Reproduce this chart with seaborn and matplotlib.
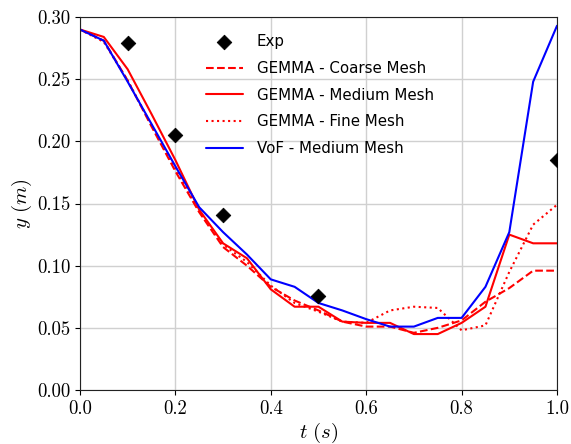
import numpy as np
import pandas as pd
import matplotlib
matplotlib.use("Agg")
import matplotlib.pyplot as plt
import seaborn as sns

# ── data ─────────────────────────────────────
t = [0.00, 0.05, 0.10, 0.15, 0.20, 0.25, 0.30, 0.35, 0.40, 0.45, 0.50,
     0.55, 0.60, 0.65, 0.70, 0.75, 0.80, 0.85, 0.90, 0.95, 1.00]

gemma_coarse = [0.290, 0.281, 0.249, 0.212, 0.176, 0.143, 0.115, 0.100, 0.083, 0.072, 0.064,
                0.055, 0.051, 0.051, 0.046, 0.050, 0.056, 0.071, 0.082, 0.096, 0.096]
gemma_medium = [0.290, 0.284, 0.258, 0.222, 0.185, 0.145, 0.118, 0.106, 0.081, 0.067, 0.067,
                0.055, 0.054, 0.054, 0.045, 0.045, 0.054, 0.067, 0.125, 0.118, 0.118]
gemma_fine   = [0.290, 0.280, 0.249, 0.213, 0.178, 0.144, 0.117, 0.103, 0.084, 0.070, 0.063,
                0.055, 0.054, 0.064, 0.067, 0.066, 0.048, 0.052, 0.095, 0.133, 0.149]
vof_medium   = [0.290, 0.281, 0.248, 0.214, 0.180, 0.147, 0.127, 0.109, 0.089, 0.083, 0.070,
                0.064, 0.057, 0.051, 0.051, 0.058, 0.058, 0.083, 0.127, 0.248, 0.293]

exp_t = [0.1, 0.2, 0.3, 0.5, 1.0]
exp_y = [0.279, 0.205, 0.141, 0.076, 0.185]

# ── plot ─────────────────────────────────────
sns.set_style("ticks")
plt.rcParams.update({
    "mathtext.fontset": "cm",
    "text.color": "black",
    "axes.labelcolor": "black",
    "xtick.color": "black",
    "ytick.color": "black",
})

fig = plt.figure(figsize=(5.71, 4.44), dpi=100)
ax = fig.add_axes([0.140, 0.1216, 0.8355, 0.840])

sns.scatterplot(x=exp_t, y=exp_y, marker="D", s=55, color="black",
                edgecolor="black", label="Exp", ax=ax, zorder=5)
sns.lineplot(x=t, y=gemma_coarse, color="red", linestyle="--", lw=1.5,
             label="GEMMA - Coarse Mesh", ax=ax)
sns.lineplot(x=t, y=gemma_medium, color="red", linestyle="-", lw=1.5,
             label="GEMMA - Medium Mesh", ax=ax)
sns.lineplot(x=t, y=gemma_fine, color="red", linestyle=":", lw=1.5,
             label="GEMMA - Fine Mesh", ax=ax)
sns.lineplot(x=t, y=vof_medium, color="blue", linestyle="-", lw=1.5,
             label="VoF - Medium Mesh", ax=ax)

ax.set_xlim(0, 1.0)
ax.set_ylim(0, 0.30)
ax.set_xticks(np.arange(0, 1.01, 0.2))
ax.set_yticks(np.arange(0, 0.301, 0.05))
ax.set_xticklabels([f"{v:.1f}" for v in np.arange(0, 1.01, 0.2)], fontfamily="cmr10", fontsize=13.5)
ax.set_yticklabels([f"{v:.2f}" for v in np.arange(0, 0.301, 0.05)], fontfamily="cmr10", fontsize=13.5)
ax.grid(True, color="#d0d0d0", lw=1)
ax.set_axisbelow(True)
for s in ax.spines.values():
    s.set_visible(True)
    s.set_color("#222222")

ax.set_xlabel(r"$t\ (s)$", fontsize=15, labelpad=2)
ax.set_ylabel(r"$y\ (m)$", fontsize=15, labelpad=2)

ax.legend(loc="upper left", bbox_to_anchor=(0.235, 0.99), frameon=False,
          fontsize=10.8, handlelength=2.5, handletextpad=0.9, labelspacing=0.78,
          labelcolor="black")

fig.savefig("out.png", dpi=100)
